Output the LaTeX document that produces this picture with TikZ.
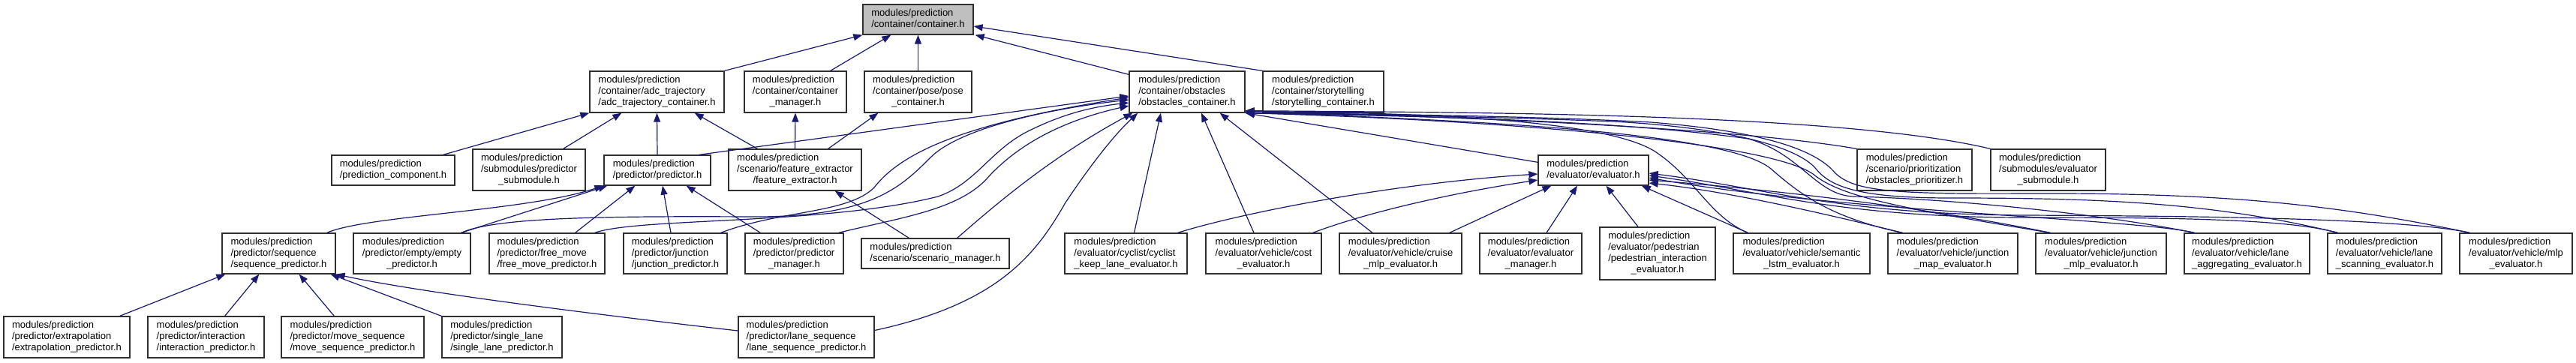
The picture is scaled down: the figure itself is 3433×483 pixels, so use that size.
\documentclass[tikz,border=0pt]{standalone}
\usepackage{fontspec}
\setmainfont{Liberation Sans}
\usetikzlibrary{arrows.meta}
\definecolor{edgec}{HTML}{191970}
\definecolor{boxc}{HTML}{303030}
\definecolor{boxgray}{HTML}{BFBFBF}
\newcommand{\hdrtext}[1]{\begin{tabular}{@{}l@{}}#1\end{tabular}}
\newcommand{\cenl}[1]{\multicolumn{1}{@{}c@{}}{#1}}
\newcommand{\hdrbox}[7][]{\node[box,#1,minimum width={(#4-#3)*1pt},minimum height={(#6-#5)*1pt}] (#2) at ({(#3+#4)/2},{(#5+#6)/2}) {#7};}
\tikzset{
  box/.style={draw=boxc, line width=1.3pt, fill=white, inner sep=0pt, font=\fontsize{13}{15}\selectfont},
  dep/.style={draw=edgec, line width=1.2pt, -{Triangle[length=12pt,width=9pt]}},
}
\begin{document}
\begin{tikzpicture}[x=1pt,y=-1pt]
\fill[white] (0,0) rectangle (3433,483);
\useasboundingbox (0,0) rectangle (3433,483);
% row 0
\hdrbox[fill=boxgray]{container}{1150}{1297}{6}{46}{\hdrtext{modules/prediction\\/container/container.h}}
% row 1
\hdrbox{adc}{786}{965}{95}{150}{\hdrtext{modules/prediction\\/container/adc\_trajectory\\/adc\_trajectory\_container.h}}
\hdrbox{cmgr}{992}{1128}{95}{150}{\hdrtext{modules/prediction\\/container/container\\\cenl{\_manager.h}}}
\hdrbox{pose}{1152}{1295}{95}{150}{\hdrtext{modules/prediction\\/container/pose/pose\\\cenl{\_container.h}}}
\hdrbox{obst}{1505}{1659}{95}{150}{\hdrtext{modules/prediction\\/container/obstacles\\/obstacles\_container.h}}
\hdrbox{story}{1683}{1844}{95}{150}{\hdrtext{modules/prediction\\/container/storytelling\\/storytelling\_container.h}}
% row 2
\hdrbox{pcomp}{442}{606}{207}{247}{\hdrtext{modules/prediction\\/prediction\_component.h}}
\hdrbox{psub}{630}{780}{199}{254}{\hdrtext{modules/prediction\\/submodules/predictor\\\cenl{\_submodule.h}}}
\hdrbox{pred}{805}{947}{207}{247}{\hdrtext{modules/prediction\\/predictor/predictor.h}}
\hdrbox{feat}{971}{1148}{199}{254}{\hdrtext{modules/prediction\\/scenario/feature\_extractor\\\cenl{/feature\_extractor.h}}}
\hdrbox{eval}{2050}{2197}{207}{247}{\hdrtext{modules/prediction\\/evaluator/evaluator.h}}
\hdrbox{prio}{2475}{2628}{199}{254}{\hdrtext{modules/prediction\\/scenario/prioritization\\/obstacles\_prioritizer.h}}
\hdrbox{esub}{2653}{2806}{199}{254}{\hdrtext{modules/prediction\\/submodules/evaluator\\\cenl{\_submodule.h}}}
% row 3
\hdrbox{seq}{296}{447}{311}{365}{\hdrtext{modules/prediction\\/predictor/sequence\\/sequence\_predictor.h}}
\hdrbox{empty}{471}{627}{311}{365}{\hdrtext{modules/prediction\\/predictor/empty/empty\\\cenl{\_predictor.h}}}
\hdrbox{free}{652}{806}{311}{365}{\hdrtext{modules/prediction\\/predictor/free\_move\\/free\_move\_predictor.h}}
\hdrbox{junc}{831}{969}{311}{365}{\hdrtext{modules/prediction\\/predictor/junction\\/junction\_predictor.h}}
\hdrbox{pmgr}{993}{1124}{311}{365}{\hdrtext{modules/prediction\\/predictor/predictor\\\cenl{\_manager.h}}}
\hdrbox{scen}{1148}{1345}{318}{358}{\hdrtext{modules/prediction\\/scenario/scenario\_manager.h}}
\hdrbox{cyc}{1419}{1582}{311}{365}{\hdrtext{modules/prediction\\/evaluator/cyclist/cyclist\\\cenl{\_keep\_lane\_evaluator.h}}}
\hdrbox{cost}{1607}{1761}{311}{365}{\hdrtext{modules/prediction\\/evaluator/vehicle/cost\\\cenl{\_evaluator.h}}}
\hdrbox{cruise}{1785}{1948}{311}{365}{\hdrtext{modules/prediction\\/evaluator/vehicle/cruise\\\cenl{\_mlp\_evaluator.h}}}
\hdrbox{emgr}{1972}{2108}{311}{365}{\hdrtext{modules/prediction\\/evaluator/evaluator\\\cenl{\_manager.h}}}
\hdrbox{ped}{2132}{2286}{303}{373}{\hdrtext{modules/prediction\\/evaluator/pedestrian\\/pedestrian\_interaction\\\cenl{\_evaluator.h}}}
\hdrbox{lstm}{2310}{2492}{311}{365}{\hdrtext{modules/prediction\\/evaluator/vehicle/semantic\\\cenl{\_lstm\_evaluator.h}}}
\hdrbox{jmap}{2516}{2689}{311}{365}{\hdrtext{modules/prediction\\/evaluator/vehicle/junction\\\cenl{\_map\_evaluator.h}}}
\hdrbox{jmlp}{2713}{2887}{311}{365}{\hdrtext{modules/prediction\\/evaluator/vehicle/junction\\\cenl{\_mlp\_evaluator.h}}}
\hdrbox{lagg}{2911}{3078}{311}{365}{\hdrtext{modules/prediction\\/evaluator/vehicle/lane\\\cenl{\_aggregating\_evaluator.h}}}
\hdrbox{lscan}{3102}{3254}{311}{365}{\hdrtext{modules/prediction\\/evaluator/vehicle/lane\\\cenl{\_scanning\_evaluator.h}}}
\hdrbox{mlp}{3278}{3428}{311}{365}{\hdrtext{modules/prediction\\/evaluator/vehicle/mlp\\\cenl{\_evaluator.h}}}
% row 4
\hdrbox{extra}{5}{173}{422}{477}{\hdrtext{modules/prediction\\/predictor/extrapolation\\/extrapolation\_predictor.h}}
\hdrbox{inter}{197}{352}{422}{477}{\hdrtext{modules/prediction\\/predictor/interaction\\/interaction\_predictor.h}}
\hdrbox{mseq}{375}{565}{422}{477}{\hdrtext{modules/prediction\\/predictor/move\_sequence\\/move\_sequence\_predictor.h}}
\hdrbox{slane}{589}{749}{422}{477}{\hdrtext{modules/prediction\\/predictor/single\_lane\\/single\_lane\_predictor.h}}
\hdrbox{lseq}{984}{1165}{422}{477}{\hdrtext{modules/prediction\\/predictor/lane\_sequence\\/lane\_sequence\_predictor.h}}

% edges to container
\draw[dep] (adc.north east) -- (container.south west);
\draw[dep] ([xshift=-22pt]cmgr.north east) -- ([xshift=38pt]container.south west);
\draw[dep] (pose.north) -- (container.south);
\draw[dep] ([yshift=-5pt]obst.north west) -- ([xshift=2pt]container.south east);
\draw[dep] (story.north west) -- ([yshift=-9pt]container.east);
% edges to adc / cmgr / pose
\draw[dep] ([xshift=-16pt]pcomp.north east) -- (adc.south west);
\draw[dep] ([xshift=-30pt]psub.north east) -- ([xshift=43pt]adc.south west);
\draw[dep] (pred.north) -- (adc.south);
\draw[dep] ([xshift=39pt]feat.north west) -- ([xshift=-40pt]adc.south east);
\draw[dep] (feat.north) -- (cmgr.south);
\draw[dep] ([xshift=-45pt]feat.north east) -- ([xshift=19pt]pose.south west);
% edges to pred
\draw[dep] ([xshift=-12pt]seq.north east) .. controls (490,287) and (700,282) .. (pred.south west);
\draw[dep] ([xshift=-13pt]empty.north east) -- ([xshift=5pt]pred.south west);
\draw[dep] ([xshift=-40pt]free.north east) -- ([xshift=42pt]pred.south west);
\draw[dep] ([xshift=-6pt]junc.north) -- ([xshift=7pt]pred.south);
\draw[dep] ([xshift=21pt]pmgr.north west) -- ([xshift=-33pt]pred.south east);
% edges to seq
\draw[dep] ([xshift=-14pt]extra.north east) -- ([xshift=5pt]seq.south west);
\draw[dep] ([xshift=-53pt]inter.north east) -- ([xshift=50pt]seq.south west);
\draw[dep] ([xshift=71pt]mseq.north west) -- ([xshift=-49pt]seq.south east);
\draw[dep] (slane.north west) -- ([xshift=-7pt]seq.south east);
\draw[dep] ([yshift=8.5pt]lseq.west) .. controls (800,420) and (560,390) .. (seq.south east);
% edge to feat
\draw[dep] ([xshift=64pt]scen.north west) -- ([xshift=-36pt]feat.south east);
% edges to obst (left and bottom)
\draw[dep] ([xshift=-16pt]pred.north east) -- ([yshift=-5.5pt]obst.west);
\draw[dep] ([xshift=-9pt]junc.north east) .. controls (1040,280) and (1130,285) .. (1165,250) .. controls (1200,205) and (1280,165) .. ([yshift=-7.5pt]obst.west);
\draw[dep] ([xshift=-13pt]empty.north east) .. controls (660,290) and (800,288) .. (1000,289) .. controls (1160,290) and (1200,250) .. (1240,210) .. controls (1280,170) and (1400,145) .. ([yshift=-10.5pt]obst.west);
\draw[dep] ([xshift=-14pt]free.north east) .. controls (850,290) and (1100,300) .. (1250,262) .. controls (1300,245) and (1320,200) .. (1370,175) .. controls (1420,150) and (1460,142) .. ([yshift=-14.5pt]obst.west);
\draw[dep] ([xshift=-7pt]pmgr.north east) .. controls (1200,290) and (1280,280) .. (1318,235) .. controls (1360,190) and (1420,160) .. ([yshift=-18.5pt]obst.west);
\draw[dep] ([xshift=-70pt]scen.north east) .. controls (1330,270) and (1400,210) .. ([xshift=5pt]obst.south west);
\draw[dep] ([yshift=9pt]lseq.east) .. controls (1330,405) and (1380,340) .. (1420,270) .. controls (1460,210) and (1490,175) .. ([xshift=12pt]obst.south west);
\draw[dep] ([xshift=11pt]cyc.north) -- ([xshift=-35pt]obst.south);
\draw[dep] ([xshift=-13pt]cost.north) -- ([xshift=19pt]obst.south);
\draw[dep] ([xshift=-37.5pt]cruise.north) -- ([xshift=-34pt]obst.south east);
\draw[dep] ([yshift=-10pt]eval.north west) -- (obst.south east);
% edges to obst (right side)
\draw[dep] (prio.north west) .. controls (2300,168) and (1900,155) .. ([yshift=3pt]obst.south east);
\draw[dep] (esub.north west) .. controls (2450,150) and (1950,150) .. ([yshift=3pt]obst.south east);
\draw[dep] ([xshift=20pt]lstm.north west) .. controls (2280,290) and (2260,240) .. (2210,205) .. controls (2150,160) and (1900,150) .. ([yshift=2pt]obst.south east);
\draw[dep] ([xshift=20pt]jmap.north west) .. controls (2440,290) and (2400,260) .. (2360,225) .. controls (2300,175) and (1950,160) .. ([yshift=1pt]obst.south east);
\draw[dep] ([xshift=20pt]jmlp.north west) .. controls (2550,280) and (2460,265) .. (2420,235) .. controls (2370,190) and (2000,160) .. (obst.south east);
\draw[dep] ([xshift=14pt]lagg.north west) .. controls (2800,285) and (2600,265) .. (2470,262) .. controls (2420,260) and (2400,205) .. (2330,185) .. controls (2150,160) and (1900,155) .. (obst.south east);
\draw[dep] ([xshift=14pt]lscan.north west) .. controls (2950,270) and (2800,264) .. (2600,264) .. controls (2480,264) and (2440,250) .. (2420,225) .. controls (2395,195) and (2300,170) .. (2150,162) .. controls (2000,156) and (1800,152) .. (obst.south east);
\draw[dep] ([xshift=14pt]mlp.north west) .. controls (3100,270) and (2950,257) .. (2700,258) .. controls (2520,259) and (2470,255) .. (2445,230) .. controls (2420,200) and (2350,175) .. (2200,163) .. controls (2050,155) and (1850,152) .. (obst.south east);
% edges to eval
\draw[dep] ([xshift=-13pt]cyc.north east) .. controls (1650,285) and (1850,245) .. ([yshift=-5pt]eval.west);
\draw[dep] ([xshift=-12pt]cost.north east) .. controls (1830,280) and (1950,255) .. ([yshift=-13pt]eval.west);
\draw[dep] ([xshift=-17pt]cruise.north east) -- ([xshift=18pt]eval.south west);
\draw[dep] ([xshift=21pt]emgr.north) -- ([xshift=-21.5pt]eval.south);
\draw[dep] ([xshift=-26pt]ped.north) -- ([xshift=17pt]eval.south);
\draw[dep] ([xshift=20pt]lstm.north west) -- ([xshift=-10pt]eval.south east);
\draw[dep] ([xshift=20pt]jmap.north west) .. controls (2420,282) and (2300,255) .. ([yshift=-17pt]eval.east);
\draw[dep] ([xshift=20pt]jmlp.north west) .. controls (2560,275) and (2350,252) .. ([yshift=-13pt]eval.east);
\draw[dep] ([xshift=14pt]lagg.north west) .. controls (2850,292) and (2450,282) .. ([yshift=-10pt]eval.east);
\draw[dep] ([xshift=14pt]lscan.north west) .. controls (3050,292) and (2900,290) .. (2700,290) .. controls (2450,290) and (2350,255) .. ([yshift=-7pt]eval.east);
\draw[dep] ([xshift=14pt]mlp.north west) .. controls (3200,290) and (2900,288) .. (2700,287) .. controls (2450,286) and (2350,250) .. ([yshift=-4pt]eval.east);
\end{tikzpicture}
\end{document}
